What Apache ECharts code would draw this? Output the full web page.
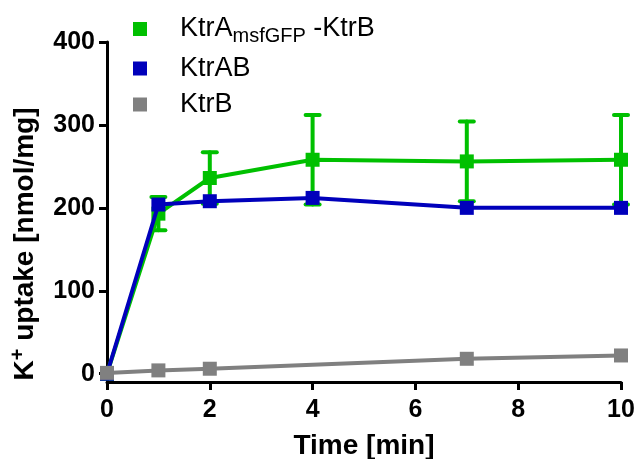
<!DOCTYPE html>
<html>
<head>
<meta charset="utf-8">
<script src="https://cdn.jsdelivr.net/npm/echarts@6/dist/echarts.min.js"></script>
<style>html,body{margin:0;padding:0;background:#fff}#c{width:634px;height:459px}</style>
</head>
<body>
<div id="c"></div>
<script>
// ---- data ----
const times = [0, 1, 2, 4, 7, 10];
const ktrAmsfVals = [0, 193, 236, 258, 256, 258];
const ktrAmsfErr = [0, 20, 31, 54, 48, 54];
const ktrABVals = [0, 204, 208, 212, 200, 200];
const ktrBTimes = [0, 1, 2, 7, 10];
const ktrBVals = [1, 4, 6, 18, 22];
const yTickValues = [0, 100, 200, 300, 400];
const seriesNames = ['KtrAmsfGFP-KtrB', 'KtrAB', 'KtrB'];

const GREEN = '#00c000', BLUE = '#0000bb', GRAY = '#808080';
const FONT = '"Liberation Sans", Arial, Helvetica, sans-serif';

const pairs = (xs, ys) => xs.map((x, i) => [x, ys[i]]);
const errData = times.map((t, i) => [t, ktrAmsfVals[i] - ktrAmsfErr[i], ktrAmsfVals[i] + ktrAmsfErr[i]]);

const chart = echarts.init(document.getElementById('c'), null, {renderer: 'canvas'});
chart.setOption({
  animation: false,
  backgroundColor: '#fff',
  grid: {left: 107, right: 13, top: 42, bottom: 77, containLabel: false, outerBoundsMode: 'none'},
  legend: {
    data: seriesNames,
    orient: 'vertical',
    left: 128,
    top: 7,
    itemWidth: 14,
    itemHeight: 14,
    itemGap: 9,
    icon: 'rect',
    formatter: function (name) {
      if (name === seriesNames[0]) return '{a|KtrA}{s|msfGFP}{a| -KtrB}';
      return '{a|' + name + '}';
    },
    textStyle: {
      fontFamily: FONT, fontSize: 27, color: '#000',
      padding: [0, 0, 0, 28],
      rich: {
        a: {fontFamily: FONT, fontSize: 27, color: '#000', lineHeight: 30},
        s: {fontFamily: FONT, fontSize: 20, color: '#000', lineHeight: 30, padding: [14, 0, 0, 0]}
      }
    }
  },
  xAxis: {
    type: 'value', min: 0, max: 10, interval: 2,
    name: 'Time [min]', nameLocation: 'middle', nameGap: 50,
    nameTextStyle: {fontFamily: FONT, fontSize: 28, fontWeight: 'bold', color: '#000'},
    axisLine: {onZero: false, lineStyle: {color: '#000', width: 3}},
    axisTick: {show: true, length: 8, lineStyle: {color: '#000', width: 3}},
    axisLabel: {margin: 16, fontFamily: FONT, fontSize: 25, fontWeight: 'bold', color: '#000'},
    splitLine: {show: false}
  },
  yAxis: {
    type: 'value', min: -10, max: 400,
    name: '{k|K}{p|+}{k| uptake [nmol/mg]}', nameLocation: 'middle', nameGap: 66, nameRotate: 90,
    nameTextStyle: {
      fontFamily: FONT, fontSize: 28, fontWeight: 'bold', color: '#000',
      padding: [0, 64, 0, 0],
      rich: {
        k: {fontFamily: FONT, fontSize: 28, fontWeight: 'bold', color: '#000', lineHeight: 32},
        p: {fontFamily: FONT, fontSize: 20, fontWeight: 'bold', color: '#000', lineHeight: 32, padding: [0, 0, 14, 0]}
      }
    },
    axisLine: {onZero: false, lineStyle: {color: '#000', width: 3}},
    axisTick: {show: true, length: 8, customValues: yTickValues, lineStyle: {color: '#000', width: 3}},
    axisLabel: {margin: 12, customValues: yTickValues, fontFamily: FONT, fontSize: 25, fontWeight: 'bold', color: '#000'},
    splitLine: {show: false}
  },
  series: [
    {
      name: seriesNames[0], type: 'line', data: pairs(times, ktrAmsfVals),
      color: GREEN, symbol: 'rect', symbolSize: 14, showSymbol: true,
      lineStyle: {width: 4, color: GREEN}, itemStyle: {color: GREEN}, z: 2
    },
    {
      name: 'errA', type: 'custom', data: errData, z: 2,
      renderItem: function (params, api) {
        const x = api.value(0), lo = api.value(1), hi = api.value(2);
        if (hi - lo <= 0) return null;
        const pLo = api.coord([x, lo]), pHi = api.coord([x, hi]);
        const w = 7;
        const st = {stroke: GREEN, lineWidth: 4, lineCap: 'round'};
        return {type: 'group', children: [
          {type: 'line', shape: {x1: pLo[0], y1: pLo[1], x2: pHi[0], y2: pHi[1]}, style: st},
          {type: 'line', shape: {x1: pHi[0] - w, y1: pHi[1], x2: pHi[0] + w, y2: pHi[1]}, style: st},
          {type: 'line', shape: {x1: pLo[0] - w, y1: pLo[1], x2: pLo[0] + w, y2: pLo[1]}, style: st}
        ]};
      }
    },
    {
      name: seriesNames[1], type: 'line', data: pairs(times, ktrABVals),
      color: BLUE, symbol: 'rect', symbolSize: 14,
      lineStyle: {width: 4, color: BLUE}, itemStyle: {color: BLUE}, z: 3
    },
    {
      name: seriesNames[2], type: 'line', data: pairs(ktrBTimes, ktrBVals),
      color: GRAY, symbol: 'rect', symbolSize: 14,
      lineStyle: {width: 4, color: GRAY}, itemStyle: {color: GRAY}, z: 4
    }
  ]
});
</script>
</body>
</html>
